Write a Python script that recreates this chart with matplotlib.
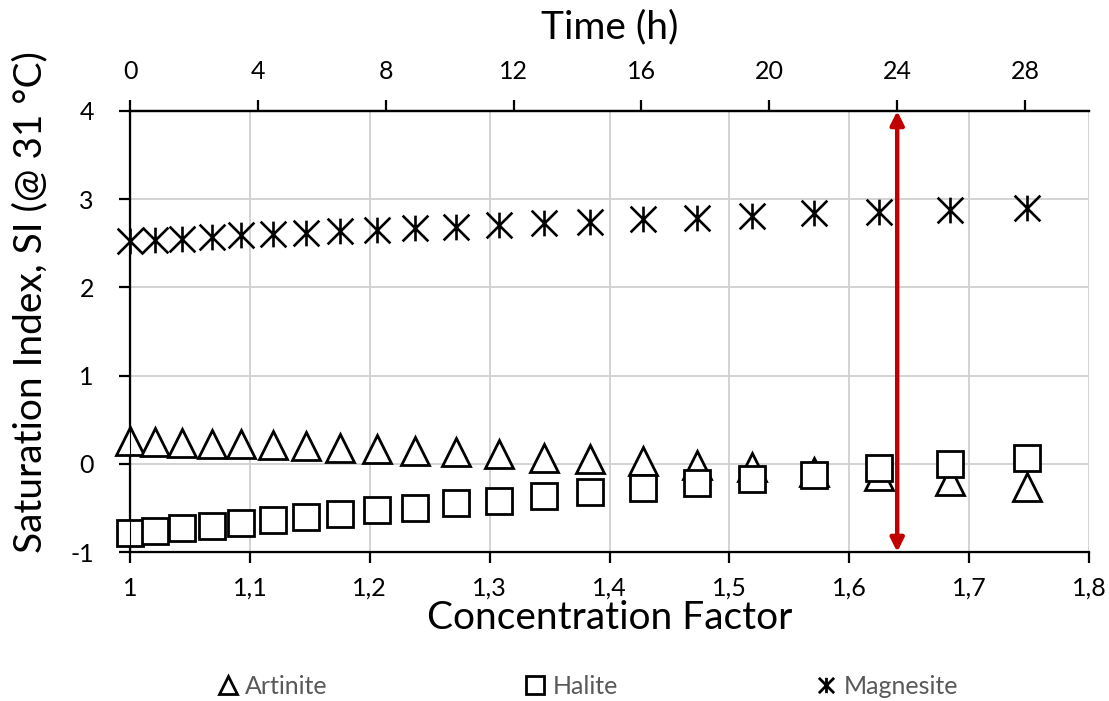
import matplotlib
matplotlib.use('Agg')
import matplotlib.pyplot as plt
from matplotlib.path import Path
from matplotlib.lines import Line2D

plt.rcParams['font.family'] = ['Lato', 'DejaVu Sans']
plt.rcParams['axes.unicode_minus'] = False

# data
cf = [1.000, 1.021, 1.043, 1.068, 1.093, 1.119, 1.147, 1.175, 1.206, 1.238, 1.272,
      1.308, 1.345, 1.384, 1.428, 1.473, 1.519, 1.571, 1.625, 1.684, 1.748]
artinite = [0.26, 0.25, 0.24, 0.23, 0.23, 0.21, 0.20, 0.18, 0.17, 0.14, 0.13,
            0.11, 0.07, 0.05, 0.03, -0.01, -0.04, -0.09, -0.14, -0.20, -0.26]
halite = [-0.79, -0.76, -0.73, -0.70, -0.67, -0.64, -0.60, -0.57, -0.52, -0.50, -0.45,
          -0.42, -0.36, -0.32, -0.27, -0.22, -0.17, -0.13, -0.05, 0.00, 0.07]
magnesite = [2.53, 2.54, 2.55, 2.57, 2.59, 2.61, 2.62, 2.64, 2.65, 2.67, 2.69,
             2.71, 2.73, 2.74, 2.77, 2.79, 2.81, 2.84, 2.86, 2.88, 2.90]

cf_ticks = [1.0, 1.1, 1.2, 1.3, 1.4, 1.5, 1.6, 1.7, 1.8]
cf_labels = ['1', '1,1', '1,2', '1,3', '1,4', '1,5', '1,6', '1,7', '1,8']
time_ticks = [0, 4, 8, 12, 16, 20, 24, 28]
si_ticks = [-1, 0, 1, 2, 3, 4]
arrow_time = 24

# Excel style "star" marker: X plus a vertical bar
star = Path([(-1, -1), (1, 1), (-1, 1), (1, -1), (0, -1), (0, 1)],
            [Path.MOVETO, Path.LINETO, Path.MOVETO, Path.LINETO, Path.MOVETO, Path.LINETO])

fig = plt.figure(figsize=(11.09, 7.01), dpi=100)
ax = fig.add_axes([130 / 1109, 1 - 552 / 701, 959 / 1109, 441 / 701])

ms = 20
ax.plot(cf, artinite, ls='none', marker='^', ms=ms, mfc='white', mec='black', mew=2,
        zorder=3, clip_on=False)
ax.plot(cf, halite, ls='none', marker='s', ms=ms - 1.5, mfc='white', mec='black', mew=2,
        zorder=4, clip_on=False)
ax.plot(cf, magnesite, ls='none', marker=star, ms=ms - 1.5, mfc='none', mec='black', mew=1.9,
        zorder=5, clip_on=False)

ax.set_xlim(1, 1.8)
ax.set_ylim(-1, 4)
ax.set_xticks(cf_ticks)
ax.set_xticklabels(cf_labels)
ax.set_yticks(si_ticks)
ax.grid(True, color='#D0D0D0', lw=1.3, zorder=0)
ax.set_axisbelow(True)
ax.spines['right'].set_visible(False)
for s in ['left', 'bottom', 'top']:
    ax.spines[s].set_linewidth(1.6)
ax.tick_params(axis='x', direction='out', length=8, width=1.6, labelsize=18, pad=10)
ax.tick_params(axis='y', direction='out', length=8, width=1.6, labelsize=18, pad=18)
ax.set_xlabel('Concentration Factor', fontsize=28, labelpad=0)
ax.set_ylabel('Saturation Index, SI (@ 31 °C)', fontsize=28)
ax.yaxis.set_label_coords(-0.085, 0.567)

# secondary time axis on top
ax2 = ax.twiny()
ax2.set_xlim(0, 30)
ax2.set_xticks(time_ticks)
ax2.tick_params(axis='x', direction='out', length=8, width=1.6, labelsize=18, pad=12)
ax2.spines['right'].set_visible(False)
ax2.spines['top'].set_linewidth(1.6)
ax2.set_xlabel('Time (h)', fontsize=28, labelpad=16)

ax2.annotate('', xy=(arrow_time, 4), xytext=(arrow_time, -1),
             arrowprops=dict(arrowstyle='<|-|>', color='#C00000', lw=3.2,
                             mutation_scale=20, shrinkA=0, shrinkB=0), zorder=6)

handles = [
    Line2D([], [], ls='none', marker='^', ms=13, mfc='white', mec='black', mew=2),
    Line2D([], [], ls='none', marker='s', ms=13, mfc='white', mec='black', mew=2),
    Line2D([], [], ls='none', marker=star, ms=11, mec='black', mew=2),
]
leg = fig.legend(handles, ['Artinite', 'Halite', 'Magnesite'], loc='center',
                 bbox_to_anchor=(0.53, 1 - 686 / 701), ncol=3, frameon=False,
                 fontsize=18, handlelength=0.8, handletextpad=0.3, columnspacing=7.9)
for t in leg.get_texts():
    t.set_color('#595959')

fig.savefig('out.png', dpi=100)
